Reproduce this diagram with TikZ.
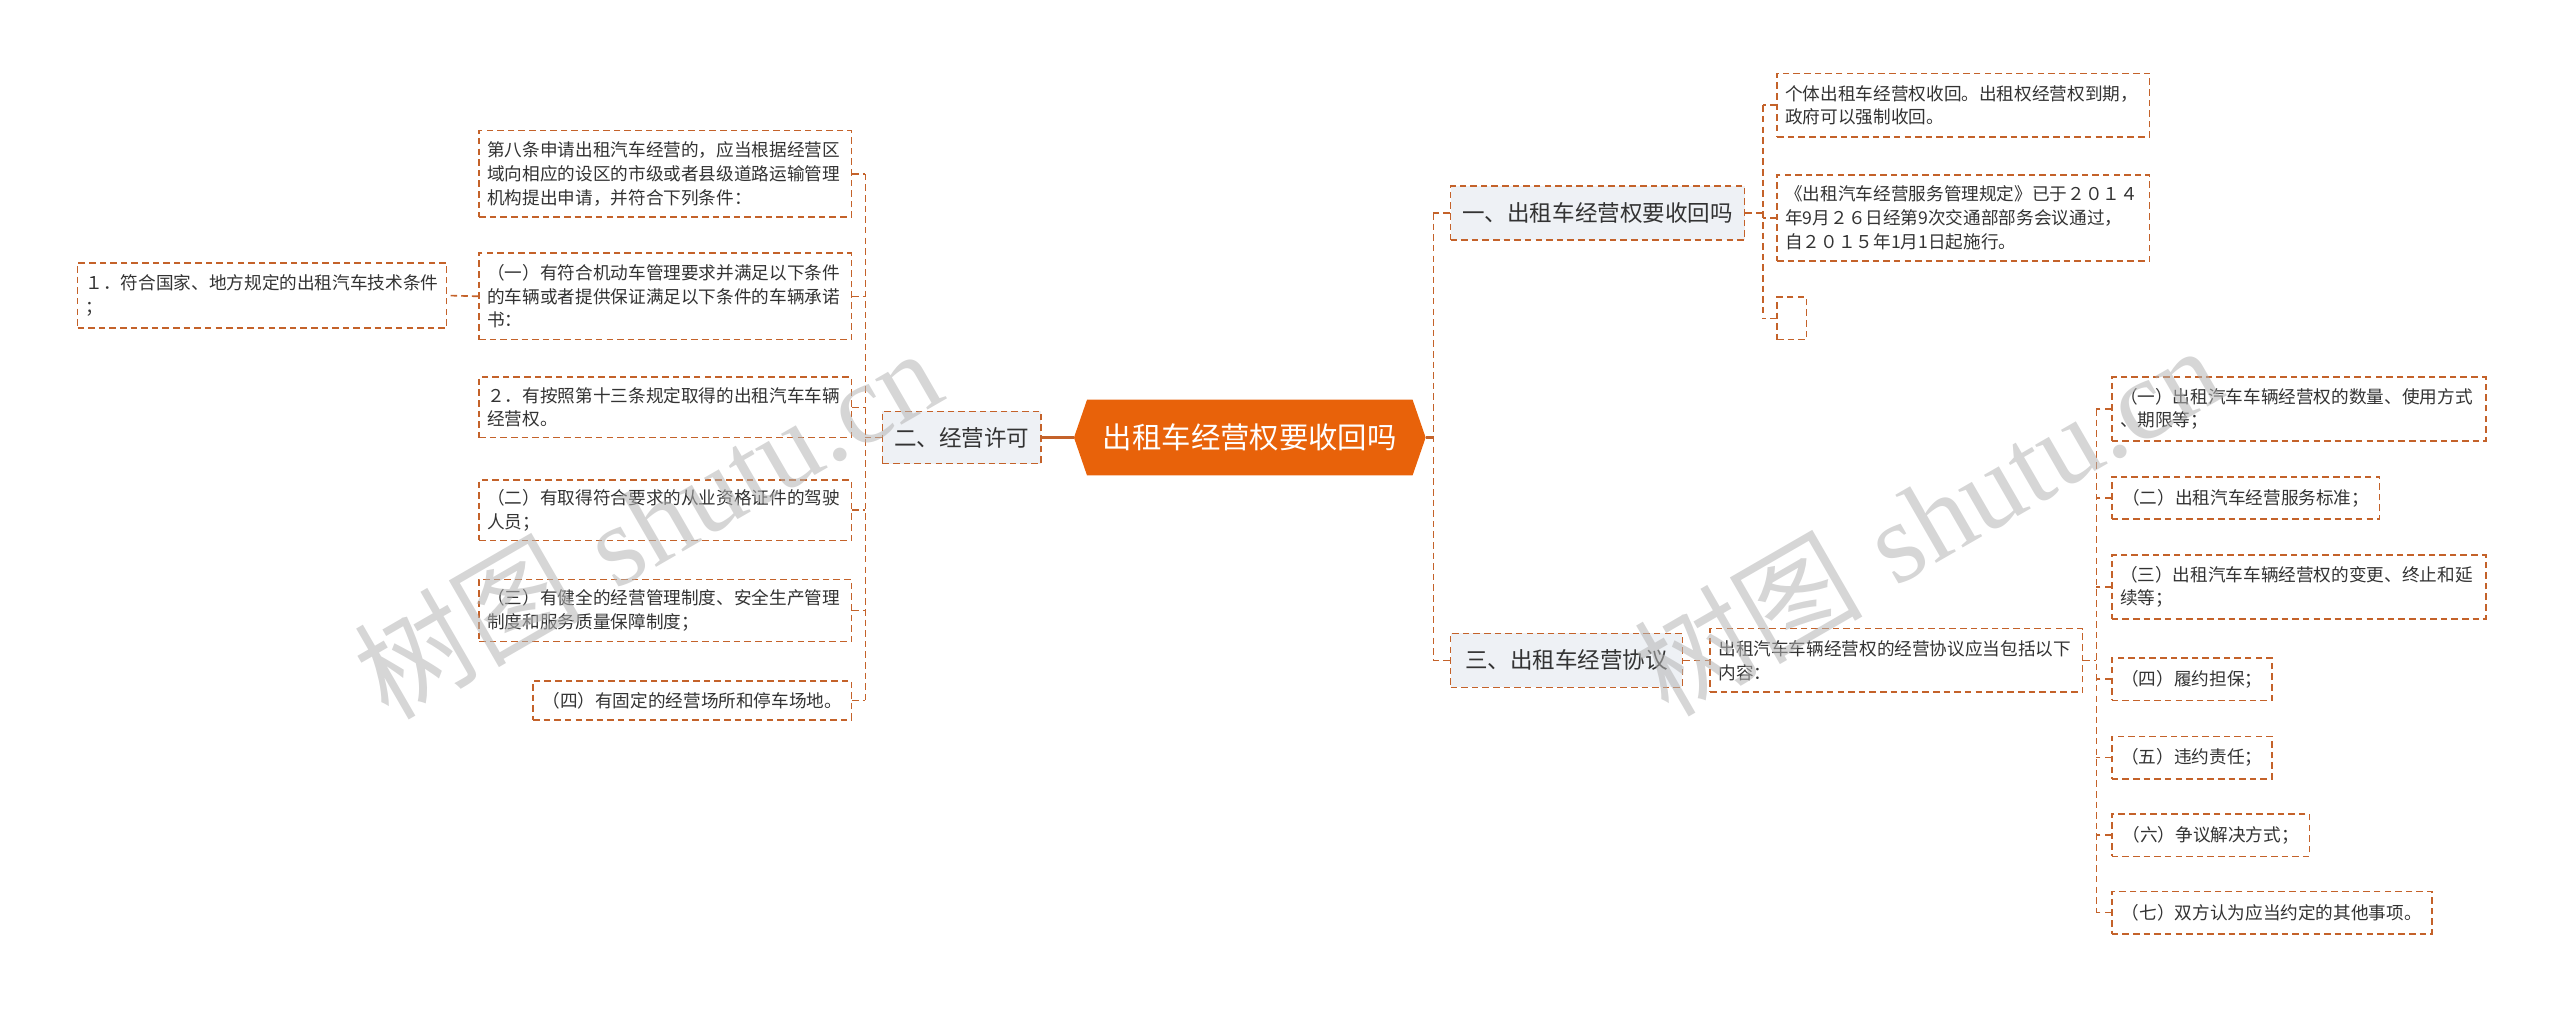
\documentclass[tikz,border=0pt]{standalone}
\usepackage{fontspec}
\newfontfamily\cjk{Noto Sans CJK SC}
\newfontfamily\wmlatin{Liberation Serif}
\definecolor{lineC}{HTML}{C4622A}
\definecolor{hexC}{HTML}{E8620A}
\definecolor{textC}{HTML}{333333}
\definecolor{branchF}{HTML}{EEF1F5}
\definecolor{wmC}{HTML}{B4B4B4}
\tikzset{
  conn/.style={draw=lineC, line width=1pt, dash pattern=on 4pt off 2.5pt},
  solidconn/.style={draw=lineC, line width=1.4pt},
  leaf/.style={draw=lineC, line width=1pt, dash pattern=on 4pt off 2.5pt, fill=white,
    anchor=west, align=left, inner xsep=5pt, inner ysep=0pt, text=textC,
    font=\cjk\fontsize{10.8pt}{14.5pt}\selectfont},
  branch/.style={draw=lineC, line width=1pt, dash pattern=on 4pt off 2.5pt, fill=branchF,
    anchor=west, align=center, inner xsep=7pt, inner ysep=0pt, text=textC,
    font=\cjk\fontsize{13.8pt}{16pt}\selectfont},
  wm/.style={text=wmC, opacity=0.55, font=\fontsize{70pt}{70pt}\selectfont, inner sep=0pt}
}
\begin{document}
\begin{tikzpicture}[x=1pt,y=-1pt]
\useasboundingbox (0,0) rectangle (1568,618);

% central node
\node[minimum width=215pt, minimum height=46pt, inner sep=0pt] (C) at (765.5,268) {};
\fill[hexC] (C.west) -- ([xshift=8pt]C.north west) -- ([xshift=-8pt]C.north east) -- (C.east)
  -- ([xshift=-8pt]C.south east) -- ([xshift=8pt]C.south west) -- cycle;
\node[text=white, font=\cjk\fontsize{18pt}{20pt}\selectfont, inner sep=0pt] (Ct) at (C) {出租车经营权要收回吗};

% left branch
\node[branch, minimum width=97pt, minimum height=32pt] (B2) at (540,268) {二、经营许可};
\node[leaf, text width=218pt, minimum height=53pt] (L1) at (293,106.5) {第八条申请出租汽车经营的，应当根据经营区\\域向相应的设区的市级或者县级道路运输管理\\机构提出申请，并符合下列条件：};
\node[leaf, text width=218pt, minimum height=53pt] (L2) at (293,181.5) {（一）有符合机动车管理要求并满足以下条件\\的车辆或者提供保证满足以下条件的车辆承诺\\书：};
\node[leaf, text width=218pt, minimum height=37pt] (L3) at (293,249.5) {２．有按照第十三条规定取得的出租汽车车辆\\经营权。};
\node[leaf, text width=218pt, minimum height=37pt] (L4) at (293,312.5) {（二）有取得符合要求的从业资格证件的驾驶\\人员；};
\node[leaf, text width=218pt, minimum height=38pt] (L5) at (293,374) {（三）有健全的经营管理制度、安全生产管理\\制度和服务质量保障制度；};
\node[leaf, minimum width=195pt, minimum height=24pt] (L6) at (326,429) {（四）有固定的经营场所和停车场地。};
\node[leaf, text width=216pt, minimum height=40pt] (K1) at (47,181) {１．符合国家、地方规定的出租汽车技术条件\\；};

\coordinate (bL) at (530,268);
\draw[solidconn] (B2.east) -- (C.west);
\draw[conn] (B2.west) -- (bL);
\draw[conn] (L1.east -| bL) -- (L6.east -| bL);
\foreach \n in {L1,L2,L3,L4,L5,L6} { \draw[conn] (\n.east) -- (\n.east -| bL); }
\draw[conn] (L2.west) -- (K1.east);

% right branches
\node[branch, minimum width=180pt, minimum height=33pt] (B1) at (888,130.5) {一、出租车经营权要收回吗};
\node[branch, minimum width=142pt, minimum height=33pt] (B3) at (888,404.5) {三、出租车经营协议};
\coordinate (bR) at (878,268);
\draw[solidconn] (C.east) -- (bR);
\draw[conn] (B1.west -| bR) -- (B3.west -| bR);
\draw[conn] (B1.west) -- (B1.west -| bR);
\draw[conn] (B3.west) -- (B3.west -| bR);

\node[leaf, text width=218pt, minimum height=39pt] (A1) at (1088,64.5) {个体出租车经营权收回。出租权经营权到期，\\政府可以强制收回。};
\node[leaf, text width=218pt, minimum height=53pt] (A2) at (1088,133.5) {《出租汽车经营服务管理规定》已于２０１４\\年9月２６日经第9次交通部部务会议通过，\\自２０１５年1月1日起施行。};
\node[leaf, minimum width=18pt, minimum height=26pt, inner xsep=0pt] (A3) at (1088,195) {};
\coordinate (bA) at (1080,130.5);
\draw[conn] (B1.east) -- (bA);
\draw[conn] (A1.west -| bA) -- (A3.west -| bA);
\foreach \n in {A1,A2,A3} { \draw[conn] (\n.west) -- (\n.west -| bA); }

\node[leaf, text width=218pt, minimum height=39pt] (M) at (1047,404.5) {出租汽车车辆经营权的经营协议应当包括以下\\内容：};
\draw[conn] (B3.east) -- (M.west);

\node[leaf, text width=219pt, minimum height=39pt] (R1) at (1293,250.5) {（一）出租汽车车辆经营权的数量、使用方式\\、期限等；};
\node[leaf, minimum width=164pt, minimum height=26pt] (R2) at (1293,305) {（二）出租汽车经营服务标准；};
\node[leaf, text width=219pt, minimum height=39pt] (R3) at (1293,359.5) {（三）出租汽车车辆经营权的变更、终止和延\\续等；};
\node[leaf, minimum width=98pt, minimum height=26pt] (R4) at (1293,416) {（四）履约担保；};
\node[leaf, minimum width=98pt, minimum height=26pt] (R5) at (1293,464) {（五）违约责任；};
\node[leaf, minimum width=121pt, minimum height=26pt] (R6) at (1293,511.5) {（六）争议解决方式；};
\node[leaf, minimum width=196pt, minimum height=26pt] (R7) at (1293,559) {（七）双方认为应当约定的其他事项。};
\coordinate (bM) at (1284,404.5);
\draw[conn] (M.east) -- (bM);
\draw[conn] (R1.west -| bM) -- (R7.west -| bM);
\foreach \n in {R1,R2,R3,R4,R5,R6,R7} { \draw[conn] (\n.west) -- (\n.west -| bM); }

% watermarks
\node[wm, rotate=30] (W1) at (396,320) {{\cjk 树图} {\wmlatin shutu.cn}};
\node[wm, rotate=30] (W2) at (1180,318) {{\cjk 树图} {\wmlatin shutu.cn}};
\end{tikzpicture}
\end{document}
